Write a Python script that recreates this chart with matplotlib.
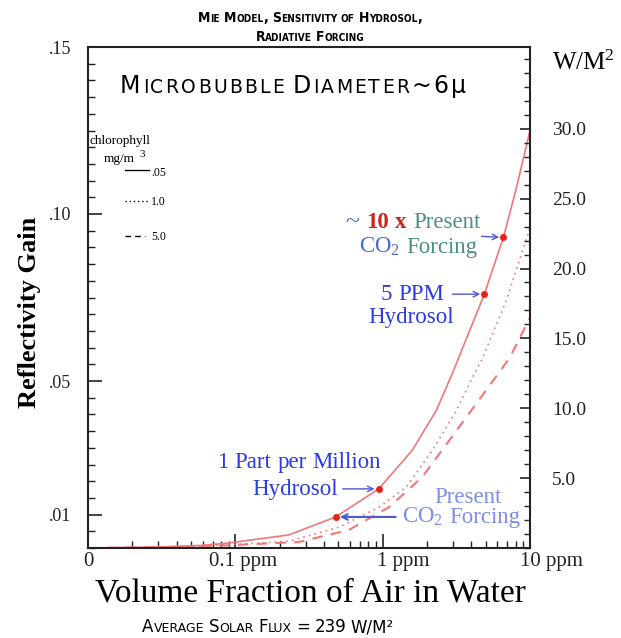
import re
import matplotlib
matplotlib.use("Agg")
import matplotlib.pyplot as plt
import matplotlib.transforms as mtransforms
from matplotlib.lines import Line2D
from matplotlib.ticker import FixedLocator, MultipleLocator, NullFormatter

plt.rcParams["font.family"] = ["Liberation Serif", "DejaVu Serif"]
plt.rcParams["mathtext.default"] = "regular"

# Curves: volume fraction (ppm) vs reflectivity gain
solid_x = [0.01, 0.03, 0.06, 0.09, 0.23, 0.48, 0.94, 1.59, 2.32, 2.98, 4.9, 6.6, 8.0, 10.0]
solid_y = [0.0, 0.0003, 0.0008, 0.0015, 0.0039, 0.0093, 0.0177, 0.0293, 0.0413, 0.0524, 0.076, 0.093, 0.107, 0.125]
dotted_x = [0.01, 0.03, 0.06, 0.1, 0.23, 0.51, 0.95, 1.45, 2.18, 3.18, 4.08, 4.7, 6.9, 10.0]
dotted_y = [0.0, 0.0002, 0.0006, 0.0011, 0.002, 0.0063, 0.0123, 0.0183, 0.0293, 0.0413, 0.0512, 0.0563, 0.074, 0.096]
dashed_x = [0.01, 0.03, 0.06, 0.1, 0.27, 0.59, 1.11, 1.86, 2.84, 4.35, 7.3, 10.0]
dashed_y = [0.0, 0.0002, 0.0005, 0.0009, 0.0018, 0.0054, 0.0123, 0.0213, 0.0323, 0.0434, 0.057, 0.069]

# highlighted points on the solid curve
dot_x = [0.48, 0.94, 4.9, 6.6]
dot_y = [0.0093, 0.0177, 0.076, 0.093]

x_ticks = [0.01, 0.1, 1, 10]
x_labels = ["0", "0.1 ppm", "1 ppm", "10 ppm"]
y_ticks = [0.01, 0.05, 0.10, 0.15]
y_labels = [".01", ".05", ".10", ".15"]
w_ticks = [5, 10, 15, 20, 25, 30]
w_labels = ["5.0", "10.0", "15.0", "20.0", "25.0", "30.0"]
solar_flux = 239

legend_labels = [".05", "1.0", "5.0"]

curve_color = "#f07878"
blue = "#2a3ae6"
teal = "#4f8f82"
lilac = "#7d8ee8"
arrow_color = "#4a5ad0"

W_PX, H_PX = 621, 638
fig = plt.figure(figsize=(W_PX / 100, H_PX / 100), dpi=100)
ax = fig.add_axes([88 / W_PX, 1 - 548 / H_PX, (530 - 88) / W_PX, (548 - 47) / H_PX])


def rich_text(x, y, runs, ha="center", tracking=0):
    # place runs of differently styled text one after another (pixel coords)
    r = fig.canvas.get_renderer()
    items = []
    for s, kw in runs:
        for tok in re.split(r"( +)", s):
            if not tok:
                continue
            if tok.strip() == "":
                items.append((None, 0.27 * kw["fontsize"] * fig.dpi / 72 * len(tok)))
                continue
            parts = list(tok) if tracking else [tok]
            for p in parts:
                t = fig.text(0, 1 - y / H_PX, p, va="baseline", ha="left", **kw)
                items.append((t, t.get_window_extent(r).width + tracking))
    total = sum(w for _, w in items)
    x0 = x - total / 2 if ha == "center" else x
    for t, w in items:
        if t is not None:
            t.set_x(x0 / W_PX)
        x0 += w


def small_caps(x, y, text, big, small, tracking=0, **kw):
    runs = []
    for tok in re.findall(r"[a-z]+|[^a-z]+", text):
        if re.fullmatch(r"[a-z]+", tok):
            runs.append((tok.upper(), dict(fontsize=small, **kw)))
        else:
            runs.append((tok, dict(fontsize=big, **kw)))
    rich_text(x, y, runs, tracking=tracking)


# curves
ax.plot(solid_x, solid_y, color=curve_color, lw=1.2)
ax.plot(dotted_x, dotted_y, color=curve_color, lw=1.2, ls=(0, (1, 2.5)))
ax.plot(dashed_x, dashed_y, color=curve_color, lw=1.5, ls=(0, (5, 4)))
ax.plot(dot_x, dot_y, "o", color="#e8221a", ms=4, zorder=5)

ax.set_xscale("log")
ax.set_xlim(0.01, 10)
ax.set_ylim(0, 0.15)

ax.xaxis.set_major_locator(FixedLocator(x_ticks))
ax.set_xticklabels(x_labels, fontsize=15)
ax.xaxis.set_minor_formatter(NullFormatter())
ax.set_yticks(y_ticks)
ax.set_yticklabels(y_labels, fontsize=13)
ax.yaxis.set_minor_locator(MultipleLocator(0.005))
ax.tick_params(axis="both", which="major", direction="in", length=10, width=1.2, colors="#222222")
ax.tick_params(axis="both", which="minor", direction="in", length=5, width=1.0, colors="#222222")
ax.tick_params(axis="y", pad=12)
ax.tick_params(axis="x", pad=3)

# nudge x tick labels so the number sits on its tick like the original
offsets = [0, -26, -6, -10]
for lab, dx in zip(ax.get_xticklabels(), offsets):
    if dx:
        lab.set_ha("left")
    lab.set_transform(lab.get_transform() + mtransforms.ScaledTranslation(dx / 100, 0, fig.dpi_scale_trans))

for sp in ax.spines.values():
    sp.set_linewidth(1.5)
    sp.set_color("#222222")

# right axis in W/m^2 = reflectivity * average solar flux
ax2 = ax.twinx()
ax2.set_ylim(0, 0.15 * solar_flux)
ax2.set_yticks(w_ticks)
ax2.set_yticklabels(w_labels, fontsize=14)
ax2.yaxis.set_minor_locator(MultipleLocator(1))
ax2.tick_params(axis="y", which="major", direction="in", length=7, width=1.2, pad=16, colors="#222222")
ax2.tick_params(axis="y", which="minor", direction="in", length=4, width=1.0, colors="#222222")
for sp in ax2.spines.values():
    sp.set_visible(False)


# chlorophyll key, drawn by hand in pixel positions
def key_line(x0, x1, y, **kw):
    fig.add_artist(Line2D([x0 / W_PX, x1 / W_PX], [1 - y / H_PX] * 2, transform=fig.transFigure,
                          color="black", lw=1.0, **kw))


fig.text(90 / W_PX, 1 - 144 / H_PX, "chlorophyll", fontsize=9.5, va="baseline")
fig.text(104 / W_PX, 1 - 162 / H_PX, "mg/m", fontsize=9.5, va="baseline")
fig.text(139 / W_PX, 1 - 157 / H_PX, "3", fontsize=8, va="baseline")
key_line(125, 149, 170)
key_line(125, 148, 201, ls=(0, (1, 2)))
key_line(125, 145, 236, ls=(0, (4, 3)), dash_capstyle="butt")
for lab, yb in zip(legend_labels, [176, 205, 240]):
    fig.text(151 / W_PX, 1 - yb / H_PX, lab, fontsize=8.5, va="baseline")

# axis titles
fig.text(30 / W_PX, 1 - 312 / H_PX, "Reflectivity Gain", rotation=90, ha="center", va="center",
         fontsize=19, fontweight="bold")
fig.text(310 / W_PX, 1 - 602 / H_PX, "Volume Fraction of Air in Water", ha="center", va="baseline",
         fontsize=24)
fig.text(583 / W_PX, 1 - 70 / H_PX, "W/M$^2$", ha="center", va="baseline", fontsize=18)

# headings in small caps
sc_font = dict(family="DejaVu Sans")
small_caps(310, 22, "Mie Model, Sensitivity of Hydrosol,", 10, 7.2, fontweight="bold",
           fontstretch="condensed", **sc_font)
small_caps(310, 41, "Radiative Forcing", 10, 7.2, fontweight="bold", fontstretch="condensed", **sc_font)
small_caps(294, 93, "Microbubble Diameter~6μ", 17, 13.5, tracking=2.2, **sc_font)
small_caps(268, 632, "Average Solar Flux = 239 W/M²", 12, 9, **sc_font)

# annotations
fs = 16.5
rich_text(413, 228, [("~ ", dict(fontsize=fs + 2, color="#4a6fc0")),
                     ("10 x", dict(fontsize=fs, color="#cc2222", fontweight="bold")),
                     (" Present", dict(fontsize=fs, color=teal))])
rich_text(418, 253, [("CO$_2$", dict(fontsize=fs, color="#4a6ad0")),
                     (" Forcing", dict(fontsize=fs, color=teal))])
rich_text(412, 300, [("5 PPM", dict(fontsize=fs, color=blue))])
rich_text(411, 323, [("Hydrosol", dict(fontsize=fs, color=blue))])
rich_text(299, 468, [("1 Part per Million", dict(fontsize=fs, color=blue))])
rich_text(295, 495, [("Hydrosol", dict(fontsize=fs, color=blue))])
rich_text(468, 503, [("Present", dict(fontsize=fs, color=lilac))])
rich_text(461, 523, [("CO$_2$ Forcing", dict(fontsize=fs, color=lilac))])

arrow = dict(arrowstyle="->", color=arrow_color, lw=1.0, shrinkA=0, shrinkB=3)
ax.annotate("", xy=(dot_x[3], dot_y[3]), xytext=(-22, 1), textcoords="offset pixels", arrowprops=arrow)
ax.annotate("", xy=(dot_x[2], dot_y[2]), xytext=(-32, 0), textcoords="offset pixels", arrowprops=arrow)
ax.annotate("", xy=(dot_x[1], dot_y[1]), xytext=(-36, 0), textcoords="offset pixels", arrowprops=arrow)
ax.annotate("", xy=(dot_x[0], dot_y[0]), xytext=(60, 0), textcoords="offset pixels",
            arrowprops=dict(arrow, lw=1.5))

fig.savefig("out.png", dpi=100)
